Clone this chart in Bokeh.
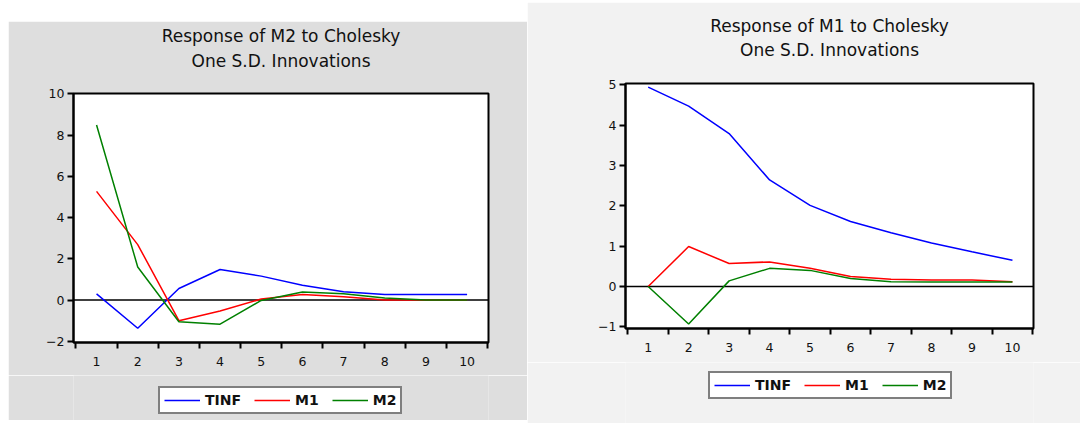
from bokeh.plotting import figure
from bokeh.models import FixedTicker, Span, Legend, LegendItem, Title, Range1d, Spacer
from bokeh.layouts import row, column
from bokeh.embed import file_html
from bokeh.resources import INLINE

periods = [1, 2, 3, 4, 5, 6, 7, 8, 9, 10]
series_names = ["TINF", "M1", "M2"]
series_colors = ["#0000ff", "#ff0000", "#008000"]

# Response of M2 to Cholesky One S.D. Innovations
m2_tinf = [0.30, -1.37, 0.56, 1.48, 1.16, 0.72, 0.40, 0.27, 0.27, 0.27]
m2_m1 = [5.27, 2.69, -1.00, -0.53, 0.05, 0.27, 0.16, 0.00, 0.00, 0.00]
m2_m2 = [8.49, 1.60, -1.05, -1.17, -0.02, 0.39, 0.30, 0.10, 0.00, 0.00]
m2_yticks = [-2, 0, 2, 4, 6, 8, 10]

# Response of M1 to Cholesky One S.D. Innovations
m1_tinf = [4.94, 4.47, 3.79, 2.64, 2.01, 1.61, 1.33, 1.08, 0.86, 0.65]
m1_m1 = [0.00, 0.99, 0.57, 0.61, 0.45, 0.25, 0.18, 0.16, 0.16, 0.12]
m1_m2 = [0.00, -0.93, 0.14, 0.45, 0.40, 0.20, 0.12, 0.11, 0.11, 0.11]
m1_yticks = [-1, 0, 1, 2, 3, 4, 5]

FONT = "DejaVu Sans"


def title_obj(text, standoff):
    return Title(text=text, align="center", text_font=FONT, text_font_size="17px",
                 text_font_style="normal", text_color="#111111", standoff=standoff)


def make_panel(title1, title2, series, yr, yticks, width, height, borders, bg, stands):
    x0, x1 = 0.44, 10.52
    p = figure(width=width, height=height, output_backend="svg", toolbar_location=None,
               x_range=Range1d(x0, x1), y_range=Range1d(*yr),
               min_border_left=borders[0], min_border_right=borders[1],
               min_border_top=borders[2], min_border_bottom=borders[3])
    p.background_fill_color = "white"
    p.border_fill_color = bg
    p.outline_line_color = "black"
    p.outline_line_width = 2
    p.grid.visible = False

    xa = p.xaxis[0]
    xa.ticker = FixedTicker(ticks=periods, minor_ticks=[k + 0.5 for k in range(0, 11)])
    xa.major_tick_in = 0
    xa.major_tick_out = 0
    xa.minor_tick_in = 0
    xa.minor_tick_out = 6
    xa.minor_tick_line_color = "black"
    xa.minor_tick_line_width = 2
    xa.axis_line_color = "black"
    xa.axis_line_width = 2
    xa.major_label_standoff = 8
    xa.major_label_text_font = FONT
    xa.major_label_text_font_size = "12.5px"
    xa.major_label_text_color = "#111111"

    ya = p.yaxis[0]
    ya.ticker = FixedTicker(ticks=yticks, minor_ticks=[])
    ya.major_tick_in = 0
    ya.major_tick_out = 6
    ya.major_tick_line_width = 2
    ya.major_tick_line_color = "black"
    ya.minor_tick_out = 0
    ya.minor_tick_in = 0
    ya.axis_line_color = "black"
    ya.axis_line_width = 2
    ya.major_label_standoff = 3
    ya.major_label_text_font = FONT
    ya.major_label_text_font_size = "12.5px"
    ya.major_label_text_color = "#111111"

    p.add_layout(Span(location=0, dimension="width", line_color="black",
                      line_width=1.5, level="underlay"))

    for name, color, vals in zip(series_names, series_colors, series):
        p.line(periods, vals, line_color=color, line_width=1.5)

    # title panels, stacked outward from the frame: blank gap, line 2, line 1
    s_gap, s_line2, s_line1 = stands
    p.title.text = title1
    p.title.align = "center"
    p.title.text_font = FONT
    p.title.text_font_size = "17px"
    p.title.text_font_style = "normal"
    p.title.text_color = "#111111"
    p.title.standoff = s_line1
    p.add_layout(title_obj(" ", s_gap), "above")
    p.add_layout(title_obj(title2, s_line2), "above")
    return p


def make_legend(width, height, bg, loc, series):
    q = figure(width=width, height=height, output_backend="svg", toolbar_location=None,
               x_range=Range1d(-1, 0), y_range=Range1d(-1, 0),
               x_axis_type=None, y_axis_type=None,
               min_border_left=0, min_border_right=0, min_border_top=0, min_border_bottom=0)
    q.background_fill_color = bg
    q.border_fill_color = bg
    q.outline_line_color = None
    q.grid.visible = False
    items = []
    for name, color, vals in zip(series_names, series_colors, series):
        # single-point line: only its legend swatch is visible
        r = q.line(x=periods[:1], y=vals[:1], line_color=color, line_width=1.5)
        items.append(LegendItem(label=name, renderers=[r]))
    leg = Legend(items=items, orientation="horizontal", location=loc,
                 border_line_color="black", border_line_width=2,
                 background_fill_color="white", background_fill_alpha=1,
                 glyph_width=36, glyph_height=12, label_height=12,
                 label_standoff=5, spacing=13, padding=4, margin=0,
                 label_text_font=FONT, label_text_font_style="bold",
                 label_text_font_size="14px", label_text_color="#111111")
    q.add_layout(leg, "center")
    return q


left = make_panel("Response of M2 to Cholesky", "One S.D. Innovations",
                  [m2_tinf, m2_m1, m2_m2], (-2.06, 10.02), m2_yticks,
                  519, 354, (65, 39, 72, 33), "#dedede", (1, 0, 5))
left_leg = make_legend(519, 45, "#dedede", (85, 6), [m2_tinf, m2_m1, m2_m2])

right = make_panel("Response of M1 to Cholesky", "One S.D. Innovations",
                   [m1_tinf, m1_m1, m1_m2], (-1.04, 5.03), m1_yticks,
                   553, 360, (98, 47, 81, 34), "#f2f2f2", (2, 0, 3))
right_leg = make_legend(553, 61, "#f2f2f2", (83, 24), [m1_tinf, m1_m1, m1_m2])

layout = row(Spacer(width=8, height=10),
             column(Spacer(width=519, height=21), left, left_leg),
             column(Spacer(width=553, height=2), right, right_leg))

open("out.html", "w").write(file_html(layout, INLINE))
